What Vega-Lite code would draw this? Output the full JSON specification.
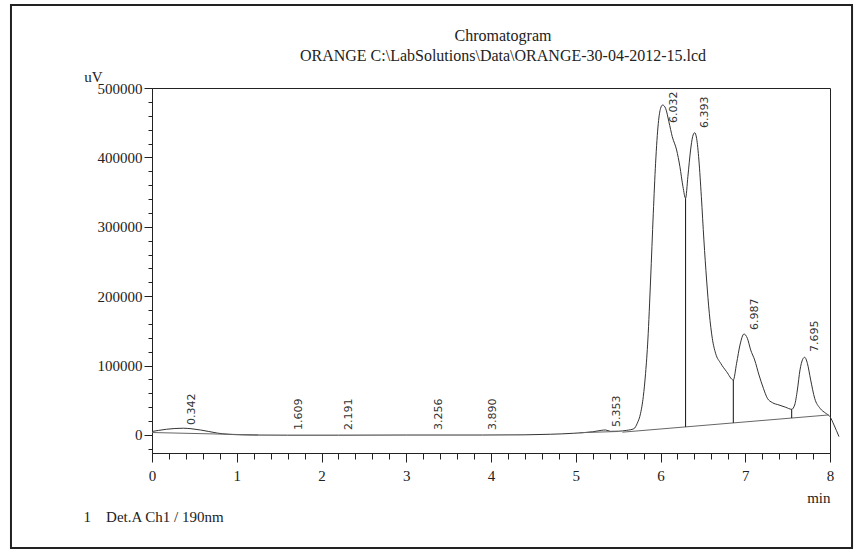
{
  "$schema": "https://vega.github.io/schema/vega-lite/v6.json",
  "width": 678,
  "height": 365,
  "autosize": {"type": "none"},
  "padding": {"left": 152, "top": 88, "right": 24, "bottom": 98},
  "background": "white",
  "title": {
    "text": ["Chromatogram", "ORANGE C:\\LabSolutions\\Data\\ORANGE-30-04-2012-15.lcd"],
    "font": "Liberation Serif",
    "fontSize": 16,
    "fontWeight": "normal",
    "lineHeight": 20,
    "color": "#222",
    "frame": "group",
    "anchor": "middle",
    "dx": 12,
    "dy": 60,
    "offset": 0
  },
  "config": {
    "view": {"stroke": "#222", "strokeWidth": 1},
    "axis": {
      "grid": false,
      "domainColor": "#222",
      "tickColor": "#222",
      "labelColor": "#222",
      "titleColor": "#222",
      "labelFont": "Liberation Serif",
      "titleFont": "Liberation Serif",
      "labelFontSize": 15,
      "titleFontSize": 15,
      "titleFontWeight": "normal"
    }
  },
  "datasets": {
    "curve": [
      {"t": 0, "v": 5000}, {"t": 0.08, "v": 6600}, {"t": 0.17, "v": 8200}, {"t": 0.27, "v": 9300}, {"t": 0.37, "v": 9700},
      {"t": 0.46, "v": 9000}, {"t": 0.57, "v": 7200}, {"t": 0.67, "v": 5000}, {"t": 0.77, "v": 2700}, {"t": 0.9, "v": 1000},
      {"t": 1.05, "v": 200}, {"t": 1.2, "v": -100}, {"t": 1.6, "v": -300}, {"t": 2.2, "v": -300}, {"t": 3.0, "v": -100},
      {"t": 3.9, "v": -100}, {"t": 4.4, "v": 200}, {"t": 4.7, "v": 1000}, {"t": 4.97, "v": 2400}, {"t": 5.2, "v": 4600},
      {"t": 5.3, "v": 6600}, {"t": 5.35, "v": 7200}, {"t": 5.41, "v": 5200}, {"t": 5.5, "v": 5400}, {"t": 5.6, "v": 6600},
      {"t": 5.686, "v": 9000}, {"t": 5.726, "v": 16860}, {"t": 5.765, "v": 31270}, {"t": 5.797, "v": 55200}, {"t": 5.824, "v": 88900},
      {"t": 5.851, "v": 136900}, {"t": 5.883, "v": 223300}, {"t": 5.915, "v": 319400}, {"t": 5.942, "v": 391500}, {"t": 5.974, "v": 449100},
      {"t": 6.001, "v": 470700}, {"t": 6.025, "v": 475500}, {"t": 6.06, "v": 470700}, {"t": 6.099, "v": 451400}, {"t": 6.139, "v": 429800},
      {"t": 6.19, "v": 410700}, {"t": 6.229, "v": 386600}, {"t": 6.265, "v": 357800}, {"t": 6.296, "v": 341100}, {"t": 6.323, "v": 372200},
      {"t": 6.355, "v": 410700}, {"t": 6.379, "v": 429800}, {"t": 6.403, "v": 435600}, {"t": 6.426, "v": 427500}, {"t": 6.453, "v": 396200},
      {"t": 6.482, "v": 343400}, {"t": 6.512, "v": 281000}, {"t": 6.544, "v": 223300}, {"t": 6.576, "v": 175300}, {"t": 6.611, "v": 139300},
      {"t": 6.65, "v": 117700}, {"t": 6.71, "v": 103300}, {"t": 6.78, "v": 91200}, {"t": 6.859, "v": 79250}, {"t": 6.898, "v": 103300},
      {"t": 6.938, "v": 129700}, {"t": 6.985, "v": 145500}, {"t": 7.025, "v": 139300}, {"t": 7.064, "v": 122500}, {"t": 7.111, "v": 108100},
      {"t": 7.162, "v": 86500}, {"t": 7.214, "v": 67300}, {"t": 7.261, "v": 52900}, {"t": 7.32, "v": 46600}, {"t": 7.398, "v": 43200},
      {"t": 7.477, "v": 39900}, {"t": 7.548, "v": 37000}, {"t": 7.583, "v": 43200}, {"t": 7.615, "v": 64800}, {"t": 7.646, "v": 93700},
      {"t": 7.678, "v": 109100}, {"t": 7.701, "v": 112000}, {"t": 7.733, "v": 103300}, {"t": 7.772, "v": 79250}, {"t": 7.819, "v": 52900},
      {"t": 7.882, "v": 38500}, {"t": 7.949, "v": 31300}, {"t": 8.0, "v": 26400}, {"t": 8.047, "v": 14400}, {"t": 8.106, "v": -2400}
    ],
    "base": [
      {"seg": "a", "t": 0, "v": 3500}, {"seg": "a", "t": 1.25, "v": 0},
      {"seg": "b", "t": 5.05, "v": 3300}, {"seg": "b", "t": 5.5, "v": 5000},
      {"seg": "c", "t": 5.55, "v": 4000}, {"seg": "c", "t": 7.98, "v": 28800}
    ],
    "drops": [
      {"t": 6.296, "lo": 11600, "hi": 341100},
      {"t": 6.859, "lo": 17400, "hi": 79250},
      {"t": 7.548, "lo": 24400, "hi": 37000}
    ],
    "peaks": [
      {"rt": 0.342, "lv": 14400, "label": "0.342"},
      {"rt": 1.609, "lv": 7200, "label": "1.609"},
      {"rt": 2.191, "lv": 7200, "label": "2.191"},
      {"rt": 3.256, "lv": 7200, "label": "3.256"},
      {"rt": 3.89, "lv": 7200, "label": "3.890"},
      {"rt": 5.353, "lv": 11500, "label": "5.353"},
      {"rt": 6.032, "lv": 449600, "label": "6.032"},
      {"rt": 6.393, "lv": 442400, "label": "6.393"},
      {"rt": 6.987, "lv": 151300, "label": "6.987"},
      {"rt": 7.695, "lv": 119600, "label": "7.695"}
    ]
  },
  "layer": [
    {
      "data": {"name": "curve"},
      "mark": {"type": "line", "color": "#333", "strokeWidth": 1, "interpolate": "monotone"},
      "encoding": {
        "x": {
          "field": "t", "type": "quantitative",
          "scale": {"domain": [0, 8], "nice": false, "zero": false},
          "axis": {
            "values": [0,0.2,0.4,0.6,0.8,1,1.2,1.4,1.6,1.8,2,2.2,2.4,2.6,2.8,3,3.2,3.4,3.6,3.8,4,4.2,4.4,4.6,4.8,5,5.2,5.4,5.6,5.8,6,6.2,6.4,6.6,6.8,7,7.2,7.4,7.6,7.8,8],
            "tickCount": 100,
            "labelExpr": "datum.value % 1 === 0 ? '' + datum.value : ''",
            "tickSize": {"condition": {"test": "datum.value % 1 === 0", "value": 9}, "value": 6},
            "labelPadding": 6,
            "labelFlush": false,
            "labelOverlap": false,
            "title": "min",
            "titleAnchor": "end",
            "titleAlign": "right",
            "titleBaseline": "alphabetic",
            "titleX": 678,
            "titleY": 49
          }
        },
        "y": {
          "field": "v", "type": "quantitative",
          "scale": {"domain": [-26000, 500000], "nice": false, "zero": false},
          "axis": {
            "values": [-20000,0,20000,40000,60000,80000,100000,120000,140000,160000,180000,200000,220000,240000,260000,280000,300000,320000,340000,360000,380000,400000,420000,440000,460000,480000,500000],
            "tickCount": 100,
            "format": "d",
            "labelExpr": "datum.value % 100000 === 0 ? datum.label : ''",
            "tickSize": {"condition": {"test": "datum.value % 100000 === 0", "value": 8}, "value": 4},
            "labelPadding": 2,
            "labelOverlap": false,
            "labelFlush": false,
            "title": "uV",
            "titleAngle": 0,
            "titleAlign": "right",
            "titleBaseline": "alphabetic",
            "titleX": -50,
            "titleY": -7
          }
        }
      }
    },
    {
      "data": {"name": "base"},
      "mark": {"type": "line", "color": "#666", "strokeWidth": 1},
      "encoding": {
        "x": {"field": "t", "type": "quantitative"},
        "y": {"field": "v", "type": "quantitative"},
        "detail": {"field": "seg"}
      }
    },
    {
      "data": {"name": "drops"},
      "mark": {"type": "rule", "color": "#111", "strokeWidth": 1},
      "encoding": {
        "x": {"field": "t", "type": "quantitative"},
        "y": {"field": "lo", "type": "quantitative"},
        "y2": {"field": "hi"}
      }
    },
    {
      "data": {"name": "peaks"},
      "mark": {"type": "text", "angle": 270, "align": "left", "baseline": "middle", "dy": 11, "font": "DejaVu Sans", "fontSize": 11, "color": "#333"},
      "encoding": {
        "x": {"field": "rt", "type": "quantitative"},
        "y": {"field": "lv", "type": "quantitative"},
        "text": {"field": "label"}
      }
    },
    {
      "data": {"values": [{}]},
      "mark": {"type": "text", "align": "left", "baseline": "alphabetic", "font": "Liberation Serif", "fontSize": 15, "color": "#222", "text": "1\u00a0\u00a0\u00a0\u00a0Det.A Ch1 / 190nm"},
      "encoding": {
        "x": {"datum": -0.807, "type": "quantitative"},
        "y": {"datum": -125400, "type": "quantitative"}
      }
    },
    {
      "data": {"values": [{}]},
      "mark": {"type": "rect", "fill": "transparent", "stroke": "#222", "strokeWidth": 2},
      "encoding": {
        "x": {"datum": -1.664, "type": "quantitative"},
        "x2": {"datum": 8.26},
        "y": {"datum": 619600, "type": "quantitative"},
        "y2": {"datum": -162900}
      }
    }
  ]
}
